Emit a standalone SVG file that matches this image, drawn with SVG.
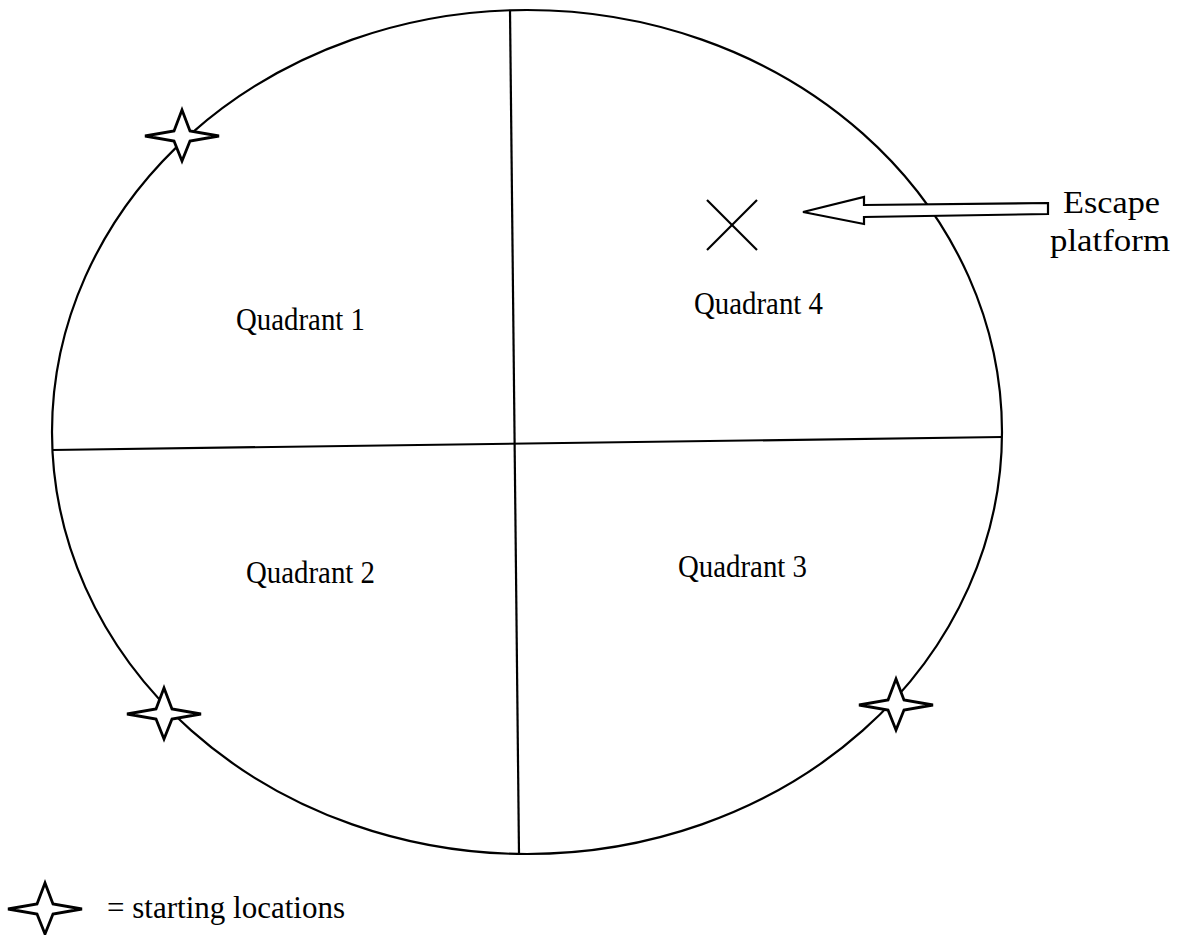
<svg xmlns="http://www.w3.org/2000/svg" width="1196" height="935" viewBox="0 0 1196 935">
<style>
.ln{fill:none;stroke:#000;stroke-width:2.2}
.star{fill:#fff;stroke:#000;stroke-width:2.8;stroke-linejoin:miter}
text{font-family:'Liberation Serif','Times New Roman',Tinos,'DejaVu Serif',serif;font-size:32px;fill:#000}
</style>
<defs>
<path id="star" d="M-37,0 L-8,-5 L0,-26 L8,-5 L37,0 L8,5 L0,25 L-8,5 Z"/>
</defs>
<rect width="1196" height="935" fill="#fff"/>
<g id="pool">
<ellipse class="ln" cx="527" cy="432" rx="475" ry="422"/>
</g>
<g id="connectors">
<line class="ln" x1="510" y1="10" x2="519" y2="854"/>
<line class="ln" x1="52" y1="450" x2="1002" y2="437"/>
<path id="arrow" d="M803,212 L864,197 L864,205 L1048,203 L1048,214 L864,217 L864,224 Z" fill="#fff" stroke="#000" stroke-width="2.2" stroke-linejoin="miter"/>
</g>
<g id="platform">
<line class="ln" x1="707" y1="200" x2="757" y2="250"/>
<line class="ln" x1="757" y1="200" x2="707" y2="250"/>
</g>
<g id="star1"><use href="#star" class="star" x="182" y="136"/></g>
<g id="star2"><use href="#star" class="star" x="164" y="714"/></g>
<g id="star3"><use href="#star" class="star" x="896" y="705"/></g>
<g id="q1"><text x="236" y="330" textLength="129" lengthAdjust="spacingAndGlyphs">Quadrant 1</text></g>
<g id="q4"><text x="694" y="314" textLength="129" lengthAdjust="spacingAndGlyphs">Quadrant 4</text></g>
<g id="q2"><text x="246" y="583" textLength="129" lengthAdjust="spacingAndGlyphs">Quadrant 2</text></g>
<g id="q3"><text x="678" y="577" textLength="129" lengthAdjust="spacingAndGlyphs">Quadrant 3</text></g>
<g id="escape-label">
<text x="1063" y="213" font-size="33" textLength="97" lengthAdjust="spacingAndGlyphs">Escape</text>
<text x="1050" y="251" font-size="33" textLength="120" lengthAdjust="spacingAndGlyphs">platform</text>
</g>
<g id="legend">
<use href="#star" class="star" x="45" y="909"/>
<text x="107" y="918" textLength="238" lengthAdjust="spacingAndGlyphs">= starting locations</text>
</g>
</svg>
